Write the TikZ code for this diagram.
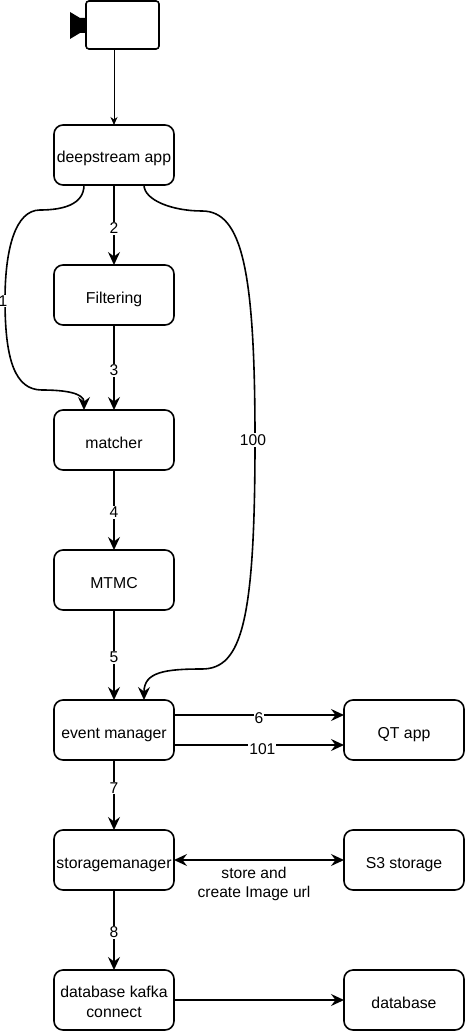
\documentclass[tikz,border=0pt]{standalone}
\usepackage{fontspec}
\setmainfont{Liberation Sans}
\usetikzlibrary{arrows.meta}
\tikzset{
  box/.style = {draw, line width=1.6pt, rounded corners=9pt, minimum width=120pt, minimum height=60pt, inner sep=0pt, outer sep=0pt, align=center, text height=16pt, text depth=0pt, font=\fontsize{15.8}{19.5}\selectfont},
  flow/.style = {line width=1.6pt, -{Stealth[length=13pt,width=12pt,inset=4.5pt]}},
  both/.style = {line width=1.6pt, {Stealth[length=13pt,width=12pt,inset=4.5pt]}-{Stealth[length=13pt,width=12pt,inset=4.5pt]}},
  lbl/.style = {fill=white, inner sep=1pt, font=\fontsize{15.6}{19.5}\selectfont}
}
\begin{document}
\begin{tikzpicture}[x=1pt, y=-1pt]
\useasboundingbox (0,0) rectangle (466,1032);
\draw(122.5,25) node[draw, line width=1.6pt, rounded corners=3pt, minimum width=73pt, minimum height=48pt, outer sep=0pt] (camera) {};
\fill (86,18) -- (80,18) -- (70,12) -- (70,39) -- (80,33) -- (86,33) -- cycle;
\draw(114,155) node[box] (deepstream) {deepstream app};
\draw(114,295) node[box] (filtering) {Filtering};
\draw(114,440) node[box] (matcher) {matcher};
\draw(114,580) node[box] (mtmc) {MTMC};
\draw(114,730) node[box] (eventmanager) {event manager};
\draw(114,860) node[box] (storagemanager) {storagemanager};
\draw(114,1000) node[box, text height=34pt] (kafka) {database kafka\\connect};
\draw(404,730) node[box] (qtapp) {QT app};
\draw(404,860) node[box] (s3) {S3 storage};
\draw(404,1000) node[box] (database) {database};
\draw[line width=1pt, -{Stealth[length=8pt,width=7pt,inset=2.5pt]}] ([xshift=-8.5pt]camera.south) -- (deepstream.north);
\draw[flow] (deepstream) -- node[lbl, pos=0.54] {2} (filtering);
\draw[flow] (filtering) -- node[lbl, pos=0.53] {3} (matcher);
\draw[flow] (matcher) -- node[lbl, pos=0.53] {4} (mtmc);
\draw[flow] (mtmc) -- node[lbl, pos=0.53] {5} (eventmanager);
\draw[flow] (eventmanager) -- node[lbl, pos=0.4] {7} (storagemanager);
\draw[flow] (storagemanager) -- node[lbl, pos=0.53] {8} (kafka);
\draw[flow] ([yshift=15pt]eventmanager.east) -- node[lbl, pos=0.5, yshift=-3pt] {6} ([yshift=15pt]qtapp.west);
\draw[flow] ([yshift=-15pt]eventmanager.east) -- node[lbl, pos=0.52, yshift=-4pt] {101} ([yshift=-15pt]qtapp.west);
\draw[both] (storagemanager) -- (s3);
\draw[flow] (kafka) -- (database);
\draw(254,884) node[lbl, align=center] (storelabel) {store and\\create Image url};
\draw[flow] ([xshift=-30pt]deepstream.south) .. controls (84,205) and (62,210) .. (40,210) .. controls (15,210) and (5,250) .. (5,300) .. controls (5,360) and (15,390) .. (42,390) .. controls (65,390) and (84,393) .. ([xshift=-30pt]matcher.north);
\draw(3,301) node[lbl] (label1) {1};
\draw[flow] ([xshift=30pt]deepstream.south) .. controls (144,200) and (172,211) .. (202,211) .. controls (242,211) and (255,270) .. (255,440) .. controls (255,620) and (242,669) .. (202,669) .. controls (165,669) and (144,672) .. ([xshift=30pt]eventmanager.north);
\draw(253,440) node[lbl] (label100) {100};
\end{tikzpicture}
\end{document}
